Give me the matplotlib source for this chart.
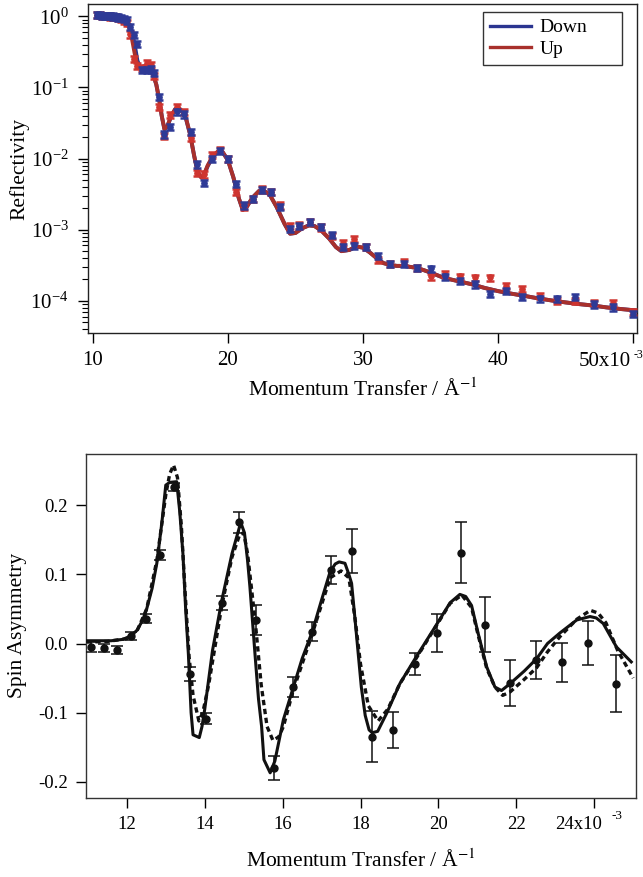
import numpy as np
import matplotlib
matplotlib.use("Agg")
import matplotlib.pyplot as plt
from matplotlib.ticker import LogLocator, NullFormatter

plt.rcParams['font.family'] = ['Liberation Serif', 'DejaVu Serif']
plt.rcParams['mathtext.fontset'] = 'stix'

# reflectivity data (q in 1e-3 / A)
q_refl = [10.3, 10.5, 10.7, 10.9, 11.1, 11.3, 11.5, 11.7, 11.9, 12.1, 12.3, 12.5,
          12.72, 13.05, 13.3, 13.63, 14.0, 14.3, 14.55, 14.9, 15.3, 15.7, 16.2, 16.75,
          17.25, 17.72, 18.22, 18.82, 19.4, 19.98, 20.58, 21.18, 21.85, 22.52, 23.2,
          23.82, 24.56, 25.3, 26.1, 26.86, 27.7, 28.5, 29.3, 30.2, 31.1, 32.0, 33.06,
          34.0, 35.04, 36.05, 37.15, 38.27, 39.43, 40.6, 41.8, 43.08, 44.37, 45.7,
          47.08, 48.5, 49.97]
r_down = [1.04, 1.04, 1.03, 1.03, 1.02, 1.01, 1.0, 0.99, 0.97, 0.95, 0.92, 0.88,
          0.72, 0.55, 0.41, 0.175, 0.175, 0.18, 0.16, 0.074, 0.022, 0.028, 0.046, 0.042,
          0.024, 0.0083, 0.0046, 0.0098, 0.0127, 0.0098, 0.0044, 0.0022, 0.0027, 0.0036,
          0.0034, 0.0021, 0.00104, 0.00112, 0.0013, 0.0011, 0.00084, 0.00058, 0.0006,
          0.00057, 0.00043, 0.00033, 0.00033, 0.00029, 0.000285, 0.00022, 0.00019,
          0.000171, 0.000124, 0.000138, 0.000114, 0.000108, 0.000108, 0.000113,
          0.000089, 0.000081, 0.000065]
r_up = [1.04, 1.04, 1.03, 1.02, 1.02, 1.0, 0.99, 0.98, 0.96, 0.93, 0.88, 0.82,
        0.56, 0.25, 0.2, 0.19, 0.22, 0.21, 0.147, 0.053, 0.021, 0.041, 0.053, 0.045,
        0.0196, 0.0063, 0.006, 0.0114, 0.0134, 0.0098, 0.0034, 0.0021, 0.0027, 0.0037,
        0.0034, 0.0022, 0.00112, 0.00115, 0.0013, 0.00108, 0.00082, 0.00066, 0.00075,
        0.00058, 0.00038, 0.00033, 0.00035, 0.00029, 0.00022, 0.000237, 0.00022,
        0.000213, 0.000213, 0.000162, 0.000146, 0.000117, 0.0001, 0.0001,
        0.000093, 0.000093, 0.00007]

q_fit = [10.3, 11.5, 12.0, 12.4, 12.7, 12.9, 13.1, 13.3, 13.5, 13.8, 14.1, 14.4, 14.7,
         14.9, 15.1, 15.3, 15.5, 15.8, 16.1, 16.35, 16.6, 16.9, 17.2, 17.5, 17.75, 18.0,
         18.2, 18.5, 18.9, 19.3, 19.6, 20.0, 20.4, 20.8, 21.1, 21.4, 21.8, 22.3, 22.7,
         23.1, 23.6, 24.2, 24.6, 25.0, 25.5, 26.0, 26.4, 26.9, 27.5, 28.0, 28.4, 29.0,
         29.5, 30.0, 30.5, 31.0, 31.5, 32.0, 32.5, 33.0, 33.5, 34.0, 34.5, 35.0, 36.0,
         37.0, 38.0, 39.0, 40.0, 41.0, 42.0, 43.0, 44.0, 45.0, 46.0, 47.0, 48.0, 49.0,
         50.3]
fit_up = [1.02, 0.98, 0.95, 0.88, 0.68, 0.48, 0.3, 0.2, 0.19, 0.2, 0.2, 0.17, 0.11,
          0.07, 0.04, 0.026, 0.028, 0.04, 0.05, 0.052, 0.047, 0.037, 0.022, 0.011, 0.0065,
          0.0055, 0.0058, 0.008, 0.011, 0.0128, 0.0125, 0.0095, 0.0055, 0.0028, 0.0019,
          0.0021, 0.0028, 0.0035, 0.0035, 0.0031, 0.0021, 0.0012, 0.00088, 0.0009, 0.00105,
          0.00115, 0.00113, 0.00098, 0.00075, 0.00057, 0.0005, 0.00052, 0.00058, 0.00056,
          0.00048, 0.0004, 0.00034, 0.00032, 0.00031, 0.00031, 0.0003, 0.00029, 0.00027,
          0.00025, 0.00021, 0.00019, 0.000172, 0.000152, 0.000137, 0.000126, 0.000117,
          0.000108, 0.000101, 0.000095, 0.00009, 0.000086, 0.000081, 0.000077, 0.000073]
fit_down = [1.02, 0.99, 0.96, 0.9, 0.76, 0.6, 0.4, 0.24, 0.19, 0.19, 0.19, 0.165, 0.11,
            0.07, 0.04, 0.026, 0.028, 0.039, 0.049, 0.051, 0.046, 0.036, 0.022, 0.011, 0.0066,
            0.0055, 0.0057, 0.0078, 0.0108, 0.0126, 0.0124, 0.0095, 0.0055, 0.0028, 0.0019,
            0.0021, 0.0028, 0.0035, 0.0035, 0.0031, 0.0021, 0.0012, 0.00088, 0.0009, 0.00105,
            0.00115, 0.00113, 0.00098, 0.00075, 0.00057, 0.0005, 0.00052, 0.00058, 0.00056,
            0.00048, 0.0004, 0.00034, 0.00032, 0.00031, 0.00031, 0.0003, 0.00029, 0.00027,
            0.00025, 0.00021, 0.00019, 0.000172, 0.000152, 0.000137, 0.000126, 0.000117,
            0.000108, 0.000101, 0.000095, 0.00009, 0.000086, 0.000081, 0.000077, 0.000073]

# spin asymmetry data
q_sa = [11.08, 11.42, 11.74, 12.11, 12.48, 12.85, 13.21, 13.62, 14.03, 14.44, 14.89,
        15.32, 15.78, 16.26, 16.76, 17.23, 17.77, 18.30, 18.84, 19.40, 19.97, 20.58,
        21.20, 21.84, 22.50, 23.18, 23.85, 24.56]
sa = [-0.005, -0.007, -0.009, 0.011, 0.036, 0.128, 0.226, -0.044, -0.109, 0.059, 0.175,
      0.034, -0.180, -0.063, 0.017, 0.106, 0.134, -0.135, -0.125, -0.030, 0.015, 0.131,
      0.027, -0.057, -0.024, -0.027, 0.001, -0.058]
sa_err = [0.007, 0.006, 0.006, 0.006, 0.007, 0.007, 0.006, 0.01, 0.008, 0.01, 0.015,
          0.022, 0.018, 0.014, 0.014, 0.02, 0.032, 0.037, 0.026, 0.016, 0.028, 0.044,
          0.04, 0.033, 0.028, 0.028, 0.032, 0.041]

q_sa_fit1 = [10.96, 11.3, 11.6, 11.9, 12.1, 12.26, 12.4, 12.51, 12.65, 12.77, 12.9, 13.0,
             13.1, 13.28, 13.36, 13.44, 13.51, 13.58, 13.65, 13.7, 13.86, 13.93, 14.0, 14.2,
             14.44, 14.7, 14.89, 14.95, 15.02, 15.1, 15.16, 15.29, 15.38, 15.46, 15.52, 15.68,
             15.8, 16.02, 16.26, 16.5, 16.76, 17.0, 17.22, 17.35, 17.45, 17.6, 17.7, 17.77,
             17.85, 17.9, 18.02, 18.12, 18.22, 18.3, 18.44, 18.67, 19.01, 19.4, 19.97, 20.3,
             20.55, 20.7, 20.85, 21.02, 21.24, 21.45, 21.62, 21.84, 22.2, 22.52, 22.8, 23.12,
             23.55, 23.89, 24.05, 24.23, 24.57, 24.95]
sa_fit1 = [0.004, 0.004, 0.004, 0.006, 0.011, 0.019, 0.033, 0.05, 0.08, 0.116, 0.175, 0.229,
           0.233, 0.234, 0.19, 0.13, 0.05, -0.015, -0.1, -0.132, -0.136, -0.12, -0.095, -0.01,
           0.063, 0.13, 0.168, 0.171, 0.16, 0.12, 0.082, -0.015, -0.08, -0.12, -0.168, -0.187,
           -0.17, -0.11, -0.066, -0.022, 0.017, 0.063, 0.104, 0.115, 0.118, 0.116, 0.1, 0.087,
           0.04, 0.01, -0.063, -0.104, -0.125, -0.129, -0.127, -0.101, -0.058, -0.022, 0.029,
           0.059, 0.071, 0.068, 0.055, 0.0145, -0.034, -0.063, -0.068, -0.058, -0.04, -0.022,
           0.0, 0.0153, 0.034, 0.039, 0.037, 0.029, -0.005, -0.0266]

q_sa_fit2 = [10.96, 11.5, 12.0, 12.26, 12.51, 12.77, 13.0, 13.1, 13.2, 13.3, 13.4, 13.5,
             13.6, 13.7, 13.85, 13.95, 14.1, 14.44, 14.7, 14.9, 15.0, 15.1, 15.3, 15.45, 15.6,
             15.75, 15.9, 16.02, 16.26, 16.76, 17.22, 17.5, 17.7, 17.85, 18.0, 18.2, 18.45,
             18.7, 19.01, 19.4, 19.97, 20.3, 20.6, 20.85, 21.02, 21.24, 21.45, 21.65, 21.84,
             22.2, 22.52, 22.8, 23.12, 23.55, 23.9, 24.1, 24.3, 24.6, 25.0]
sa_fit2 = [0.002, 0.003, 0.007, 0.018, 0.05, 0.12, 0.215, 0.245, 0.258, 0.24, 0.17, 0.07,
           -0.02, -0.075, -0.112, -0.1, -0.06, 0.055, 0.125, 0.158, 0.16, 0.13, 0.03, -0.06,
           -0.12, -0.14, -0.135, -0.12, -0.07, 0.014, 0.095, 0.105, 0.095, 0.04, -0.03, -0.09,
           -0.112, -0.095, -0.058, -0.024, 0.028, 0.058, 0.07, 0.052, 0.012, -0.036, -0.063,
           -0.075, -0.07, -0.052, -0.035, -0.012, 0.01, 0.035, 0.048, 0.044, 0.03, -0.01, -0.05]

blue = '#2e3a96'
red = '#cf3530'
fit_blue = '#2b3590'
fit_red = '#a8302c'

fig = plt.figure(figsize=(6.43, 8.77), dpi=100)

# ---- top: reflectivity ----
ax1 = fig.add_axes([0.137, 0.620, 0.854, 0.3756])
ax1.plot(q_fit, fit_down, color=fit_blue, lw=2.8, label='Down', zorder=2)
ax1.plot(q_fit, fit_up, color=fit_red, lw=2.8, label='Up', zorder=3)
r_up_a = np.array(r_up)
r_down_a = np.array(r_down)
ax1.errorbar(q_refl, r_up, yerr=0.1 * r_up_a, fmt='o', color=red, ms=3.8,
             elinewidth=1.8, capsize=3.2, capthick=1.8, zorder=4)
ax1.errorbar(q_refl, r_down, yerr=0.1 * r_down_a, fmt='o', color=blue, ms=3.8,
             elinewidth=1.8, capsize=3.2, capthick=1.8, zorder=5)
ax1.set_yscale('log')
ax1.set_xlim(9.65, 50.3)
ax1.set_ylim(3.5e-5, 1.5)
ax1.yaxis.set_major_locator(LogLocator(base=10, numticks=10))
ax1.yaxis.set_minor_locator(LogLocator(base=10, subs=np.arange(2, 10), numticks=10))
ax1.yaxis.set_minor_formatter(NullFormatter())
ax1.set_xticks([10, 20, 30, 40, 50])
ax1.set_xticklabels(['10', '20', '30', '40', ''])
ax1.text(49.85, -0.058, '50x10', transform=ax1.get_xaxis_transform(), ha='right',
         va='top', fontsize=15)
fig.text(1.0, 0.588, '-3', ha='right', va='bottom', fontsize=8.5)
ax1.tick_params(axis='x', which='major', direction='out', length=7, width=1,
                labelsize=15, pad=6)
ax1.tick_params(axis='y', which='major', direction='out', length=7, width=1,
                labelsize=15, pad=7)
ax1.tick_params(axis='y', which='minor', direction='out', length=4, width=0.8)
ax1.set_ylabel('Reflectivity', fontsize=15.5, labelpad=1)
ax1.set_xlabel('Momentum Transfer / Å$^{-1}$', fontsize=15.5, labelpad=6)
leg = ax1.legend(loc='upper left', mode='expand', fontsize=14, frameon=True,
                 fancybox=False, edgecolor='black', handlelength=2.1,
                 handletextpad=0.45, borderpad=0.35, labelspacing=0.2,
                 bbox_to_anchor=(0.7195, 0.8116, 0.2532, 0.164), borderaxespad=0)
leg.get_frame().set_linewidth(1.0)
for line in leg.get_lines():
    line.set_linewidth(2.4)
for s in ax1.spines.values():
    s.set_linewidth(1.0)
    s.set_color('#222222')

# ---- bottom: spin asymmetry ----
ax2 = fig.add_axes([0.134, 0.0904, 0.855, 0.3919])
ax2.plot(q_sa_fit1, sa_fit1, color='#111111', lw=2.2, zorder=3)
ax2.plot(q_sa_fit2, sa_fit2, color='#111111', lw=2.4, ls=(0, (1.6, 1.1)), zorder=2)
ax2.errorbar(q_sa, sa, yerr=sa_err, fmt='o', color='#111111', ms=5,
             elinewidth=1.1, capsize=4, capthick=1.1, zorder=4)
ax2.set_xlim(10.956, 25.07)
ax2.set_ylim(-0.223, 0.274)
ax2.set_xticks([12, 14, 16, 18, 20, 22, 24])
ax2.set_xticklabels(['12', '14', '16', '18', '20', '22', ''])
ax2.text(23.6, -0.052, '24x10', transform=ax2.get_xaxis_transform(), ha='center',
         va='top', fontsize=13.5)
ax2.text(24.45, -0.035, '-3', transform=ax2.get_xaxis_transform(), ha='left',
         va='top', fontsize=9.5)
ax2.set_yticks([-0.2, -0.1, 0.0, 0.1, 0.2])
ax2.set_yticklabels(['-0.2', '-0.1', '0.0', '0.1', '0.2'])
ax2.tick_params(axis='both', direction='out', length=7, width=1, labelsize=13.5, pad=6)
ax2.set_ylabel('Spin Asymmetry', fontsize=15.5, labelpad=8)
ax2.set_xlabel('Momentum Transfer / Å$^{-1}$', fontsize=15.5, labelpad=12)
for s in ax2.spines.values():
    s.set_linewidth(1.0)
    s.set_color('#333333')

fig.savefig('out.png', dpi=100)
